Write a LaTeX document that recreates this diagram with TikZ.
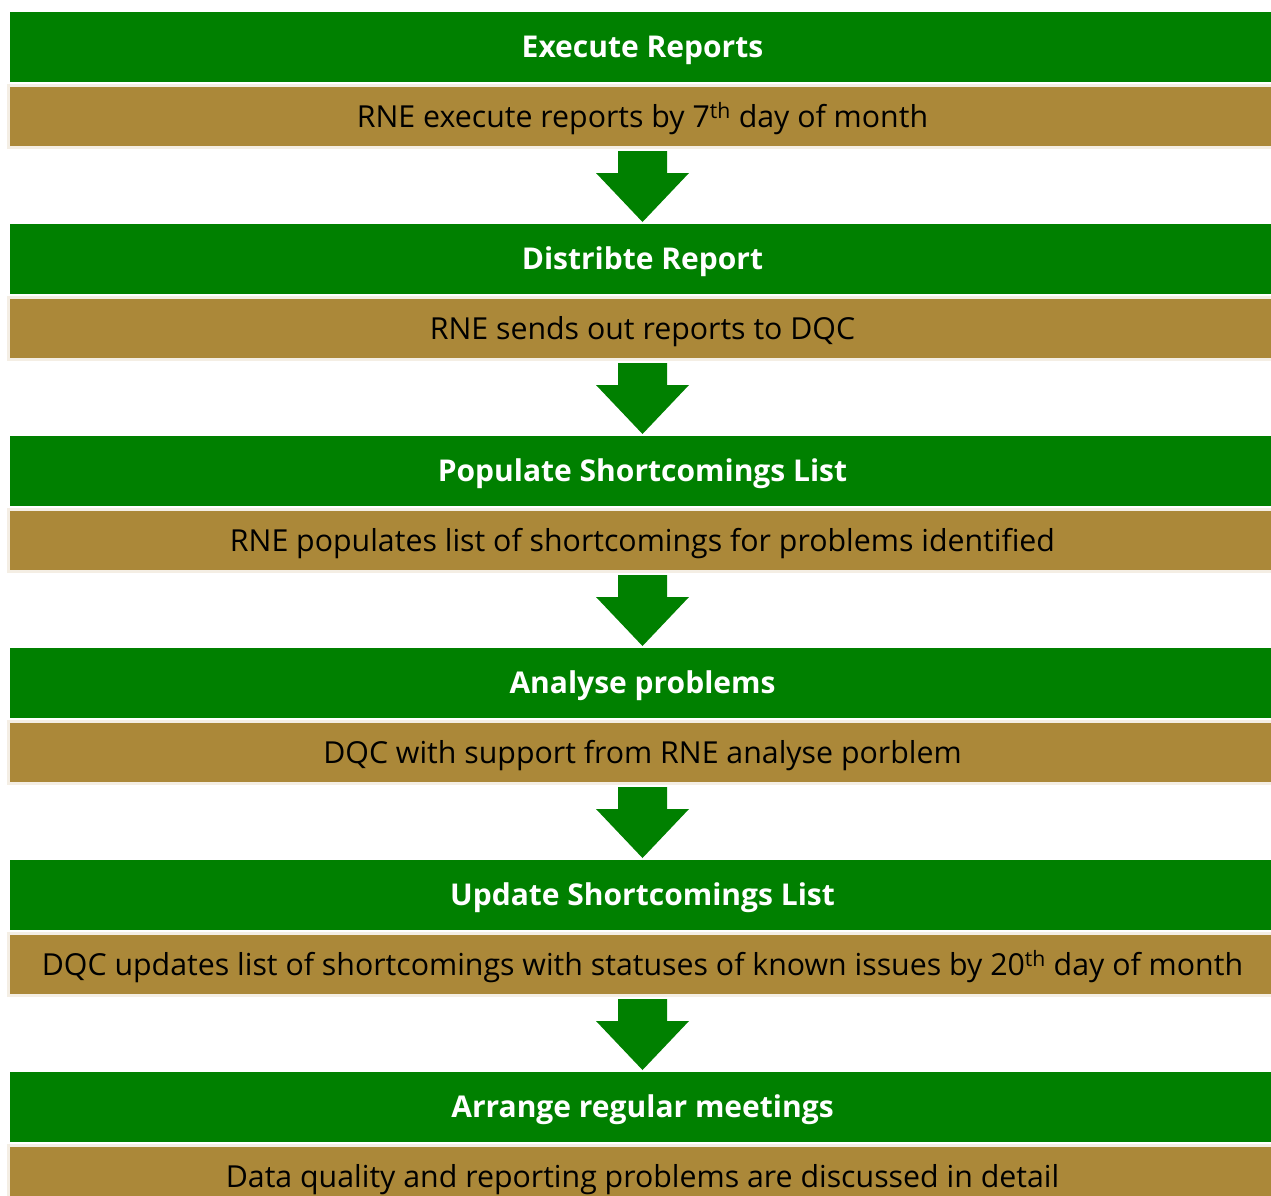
\documentclass[tikz,border=0pt]{standalone}
\usepackage{fontspec}
\setmainfont{Open Sans}
\usetikzlibrary{calc}
\definecolor{stepgreen}{HTML}{008000}
\definecolor{stepbrown}{HTML}{AB8839}
\definecolor{stepedge}{HTML}{F4EEE4}
\begin{document}
\begin{tikzpicture}[x=1pt,y=-1pt,
  barbase/.style={anchor=north west, inner sep=0pt, text height=27.5pt, text depth=6pt},
  titlebar/.style={barbase, fill=stepgreen, draw=none, minimum width=1265pt, minimum height=70pt,
    outer sep=0pt, text=white, font=\bfseries\fontsize{30}{36}\selectfont},
  descbar/.style={barbase, fill=stepbrown, draw=stepedge, line width=3pt, minimum width=1268pt,
    minimum height=62pt, text=black, font=\fontsize{30.3}{36}\selectfont},
  blockarrow/.style={fill=stepgreen}]
\clip (0,0) rectangle (1271,1196);
\fill[white] (0,0) rectangle (1271,1196);

\node[titlebar] (t1) at (10,12) {Execute Reports};
\node[descbar]  (d1) at (7,84)  {RNE execute reports by 7\textsuperscript{th} day of month};
\node[titlebar] (t2) at (10,224) {Distribte Report};
\node[descbar]  (d2) at (7,296) {RNE sends out reports to DQC};
\node[titlebar] (t3) at (10,436) {Populate Shortcomings List};
\node[descbar]  (d3) at (7,508) {RNE populates list of shortcomings for problems identified};
\node[titlebar] (t4) at (10,648) {Analyse problems};
\node[descbar]  (d4) at (7,720) {DQC with support from RNE analyse porblem};
\node[titlebar] (t5) at (10,860) {Update Shortcomings List};
\node[descbar]  (d5) at (7,932) {DQC updates list of shortcomings with statuses of known issues by 20\textsuperscript{th} day of month};
\node[titlebar] (t6) at (10,1072) {Arrange regular meetings};
\node[descbar]  (d6) at (7,1144) {Data quality and reporting problems are discussed in detail};

% block arrows from each description bar down to the next title bar
\foreach \a/\b in {d1/t2,d2/t3,d3/t4,d4/t5,d5/t6}{
  \fill[blockarrow]
    ($(\a.south)+(-24.5,2)$) -- ++(49,0) -- ++(0,22) -- ++(22,0)
    -- ($(\b.north)+(0,-2)$)
    -- ($(\a.south)+(-46.5,24)$) -- ++(22,0) -- cycle;
}
\end{tikzpicture}
\end{document}
